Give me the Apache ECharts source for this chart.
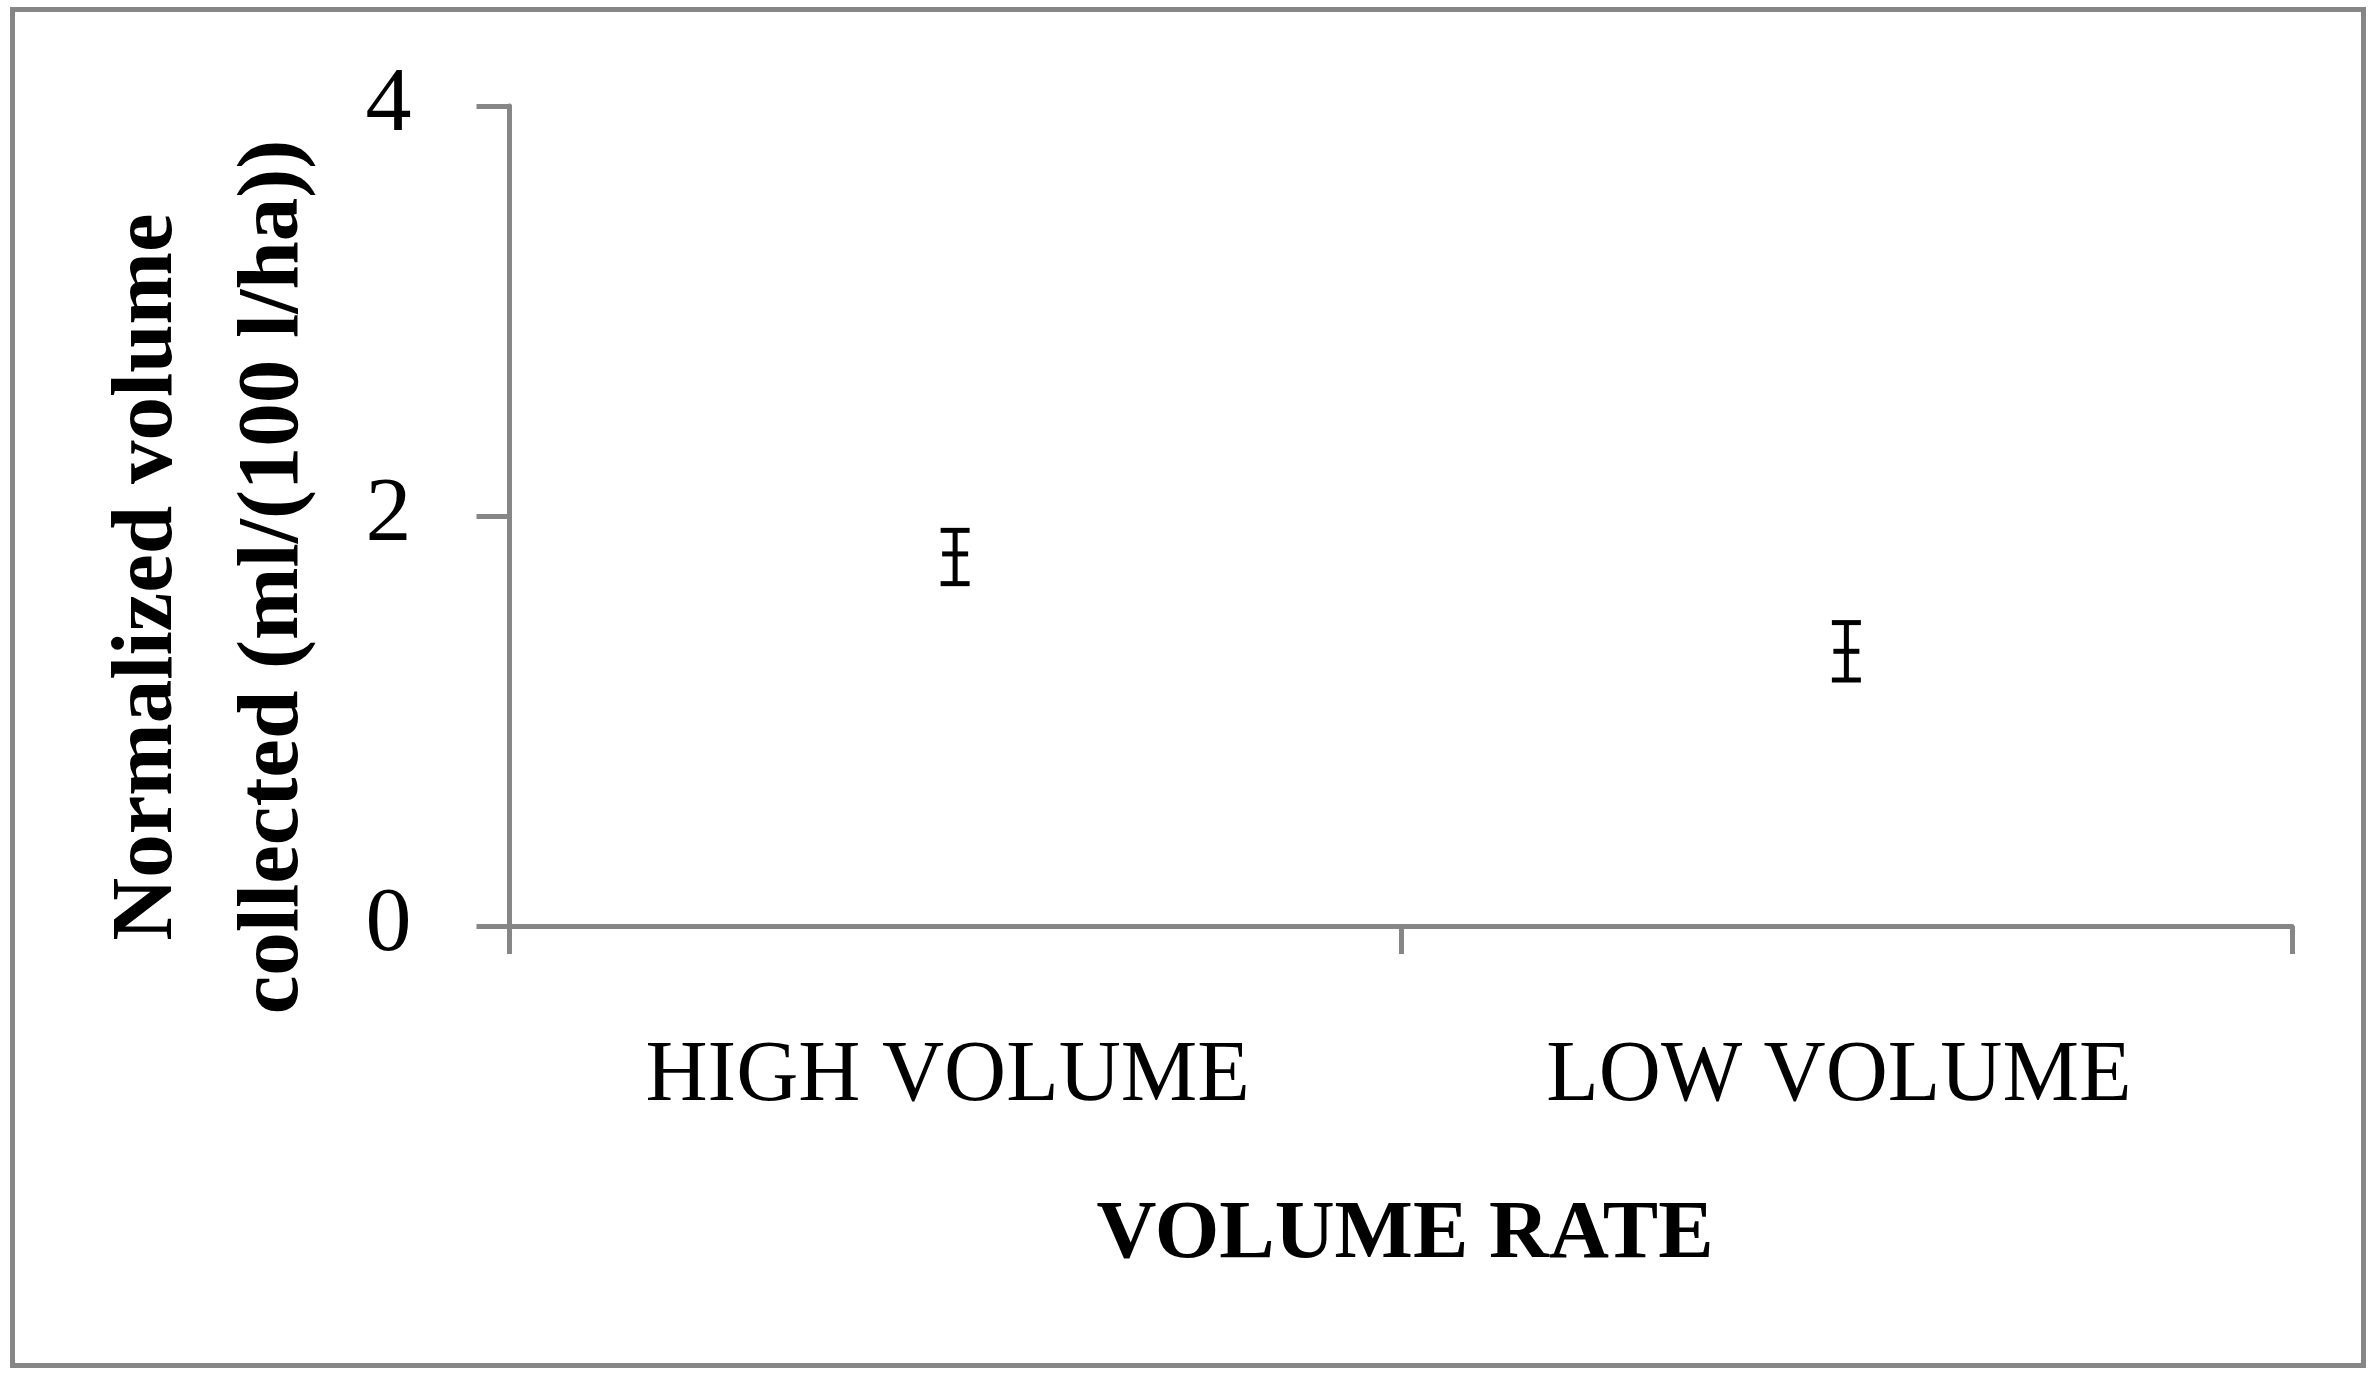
<!DOCTYPE html>
<html>
<head>
<meta charset="utf-8">
<script src="https://cdn.jsdelivr.net/npm/echarts@6/dist/echarts.min.js"></script>
<style>
html,body{margin:0;padding:0;background:#fff;}
#chart{width:2373px;height:1377px;}
</style>
</head>
<body>
<div id="chart"></div>
<script>
const categories = ['HIGH VOLUME', 'LOW VOLUME'];
const means = [1.815, 1.34];
const lowerBounds = [1.67, 1.20];
const upperBounds = [1.93, 1.48];
const yMin = 0, yMax = 4, yInterval = 2;
const yTitle = 'Normalized volume\ncollected (ml/(100 l/ha))';
const xTitle = 'VOLUME RATE';

const gray = '#868686';
const serif = '"Liberation Serif", "DejaVu Serif", serif';

const chart = echarts.init(document.getElementById('chart'), null, {renderer: 'canvas'});

const errData = categories.map((c, i) => [i, means[i], lowerBounds[i], upperBounds[i]]);

chart.setOption({
  animation: false,
  backgroundColor: '#fff',
  grid: {left: 509.5, right: 81, top: 106, bottom: 451, containLabel: false},
  xAxis: {
    type: 'category',
    data: categories,
    boundaryGap: true,
    axisLine: {lineStyle: {color: gray, width: 5}},
    axisTick: {show: true, length: 28, lineStyle: {color: gray, width: 5}},
    axisLabel: {margin: 109, fontFamily: serif, fontSize: 86, lineHeight: 84, color: '#000',
                padding: [0, 15, 0, 0]},
    splitLine: {show: false}
  },
  yAxis: {
    type: 'value',
    min: yMin, max: yMax, interval: yInterval,
    axisLine: {show: true, lineStyle: {color: gray, width: 5}},
    axisTick: {show: true, length: 33, lineStyle: {color: gray, width: 5}},
    axisLabel: {margin: 98, fontFamily: serif, fontSize: 92, color: '#000'},
    splitLine: {show: false}
  },
  graphic: [
    {type: 'rect', shape: {x: 12.5, y: 9.5, width: 2351, height: 1356},
     style: {fill: 'none', stroke: gray, lineWidth: 5}, silent: true},
    {type: 'text', x: 212, y: 577, rotation: Math.PI / 2,
     style: {text: yTitle, fontFamily: serif, fontWeight: 'bold', fontSize: 87,
             lineHeight: 126, fill: '#000', align: 'center', verticalAlign: 'middle'}},
    {type: 'text', x: 1405, y: 1236,
     style: {text: xTitle, fontFamily: serif, fontWeight: 'bold', fontSize: 83,
             fill: '#000', align: 'center', verticalAlign: 'middle'}}
  ],
  series: [{
    type: 'custom',
    data: errData,
    renderItem: function (params, api) {
      const m = api.coord([api.value(0), api.value(1)]);
      const lo = api.coord([api.value(0), api.value(2)]);
      const hi = api.coord([api.value(0), api.value(3)]);
      const x = m[0];
      const cap = 14.5, dash = 13;
      const st = {stroke: '#000', lineWidth: 5, fill: null};
      return {
        type: 'group',
        children: [
          {type: 'line', shape: {x1: x, y1: hi[1], x2: x, y2: lo[1]}, style: st},
          {type: 'line', shape: {x1: x - cap, y1: hi[1], x2: x + cap, y2: hi[1]}, style: st},
          {type: 'line', shape: {x1: x - cap, y1: lo[1], x2: x + cap, y2: lo[1]}, style: st},
          {type: 'line', shape: {x1: x - dash, y1: m[1], x2: x + dash, y2: m[1]}, style: st}
        ]
      };
    }
  }]
});
</script>
</body>
</html>
